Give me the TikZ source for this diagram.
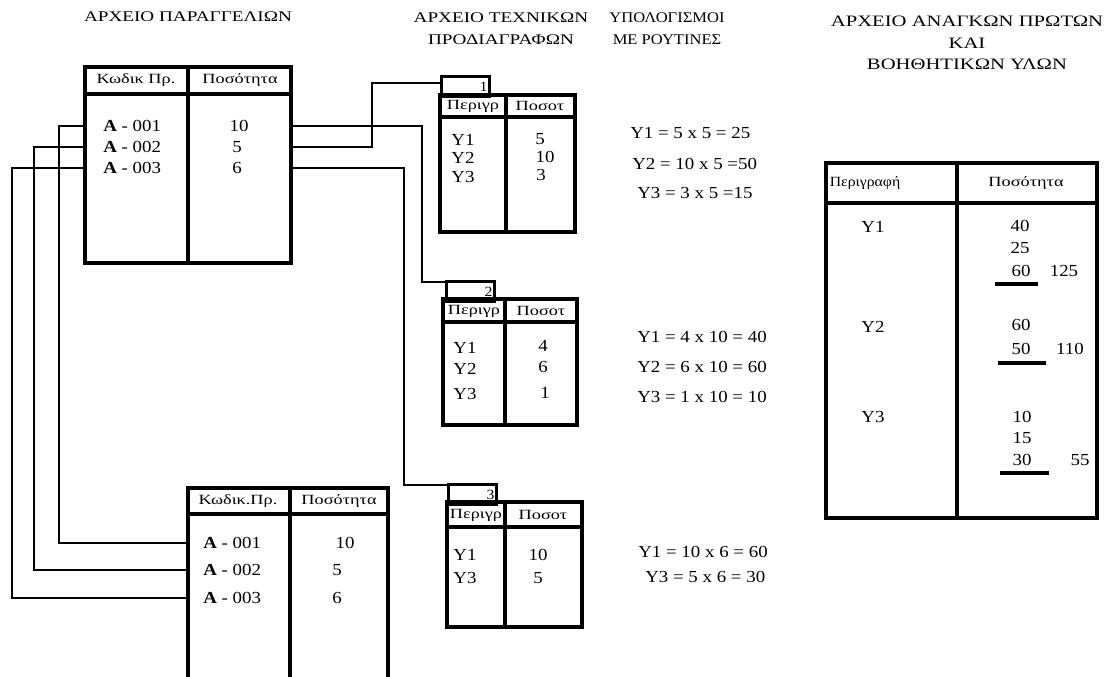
\documentclass[tikz,border=0pt]{standalone}
\usepackage{fontspec}
\setmainfont{Liberation Serif}[FakeStretch=1.12]
\newfontfamily\widefont{Liberation Serif}[FakeStretch=1.3]
\usetikzlibrary{positioning}
\tikzset{
  tline/.style={line width=2.2pt},
  wire/.style={line width=1.7pt},
  ttl/.style={font=\widefont\fontsize{10.5}{15.5}\selectfont, align=center, inner sep=0pt},
  hcell/.style={font=\widefont\fontsize{10}{10}\selectfont, inner sep=0pt},
  cell/.style={font=\fontsize{12}{12}\selectfont, inner sep=0pt},
  calc/.style={font=\fontsize{12}{12}\selectfont, inner sep=0pt, anchor=west},
  tabbox/.style={draw, line width=2.2pt, anchor=north west, minimum width=12mm, minimum height=5mm, inner sep=0pt, text width=11mm, align=right, font=\fontsize{10}{10}\selectfont}
}

\begin{document}
\begin{tikzpicture}[x=0.25mm, y=-0.25mm]
\useasboundingbox (0,0) rectangle (1108,677);

% titles
\node[ttl] (ttl0) at (188,17) {ΑΡΧΕΙΟ ΠΑΡΑΓΓΕΛΙΩΝ};
\node[ttl] (ttl1) at (501,29) {ΑΡΧΕΙΟ ΤΕΧΝΙΚΩΝ\\ΠΡΟΔΙΑΓΡΑΦΩΝ};
\node[ttl, font=\fontsize{10.5}{15.5}\selectfont] (ttl2) at (667,29) {ΥΠΟΛΟΓΙΣΜΟΙ\\ΜΕ ΡΟΥΤΙΝΕΣ};
\node[ttl, font=\widefont\fontsize{11.3}{15.5}\selectfont] (ttl3) at (967,43) {ΑΡΧΕΙΟ ΑΝΑΓΚΩΝ ΠΡΩΤΩΝ\\ΚΑΙ\\ΒΟΗΘΗΤΙΚΩΝ ΥΛΩΝ};

% orders file (top)
\draw[tline] (85,67) rectangle (291,263);
\draw[tline] (85,94) -- (291,94) (188,67) -- (188,263);
\coordinate (t0w) at (85,0);
\coordinate (t0e) at (291,0);
\node[hcell] (h01) at (136,80) {Κωδικ Πρ.};
\node[hcell] (h02) at (240,80) {Ποσότητα};
\node[cell, anchor=west] (a1) at (103,126) {\textbf{A} - 001};
\node[cell, anchor=west] (a2) at (103,147) {\textbf{A} - 002};
\node[cell, anchor=west] (a3) at (103,168) {\textbf{A} - 003};
\node[cell] (q1) at (239,126) {10};
\node[cell] (q2) at (237,147) {5};
\node[cell] (q3) at (237,168) {6};

% orders file (bottom)
\draw[tline] (188,677) |- (388,488) -- (388,677);
\draw[tline] (188,514) -- (388,514) (290,488) -- (290,677);
\coordinate (t4w) at (188,0);
\node[hcell] (h41) at (238,501) {Κωδικ.Πρ.};
\node[hcell] (h42) at (339,501) {Ποσότητα};
\node[cell, anchor=west] (b1) at (203,543) {\textbf{A} - 001};
\node[cell, anchor=west] (b2) at (203,570) {\textbf{A} - 002};
\node[cell, anchor=west] (b3) at (203,598) {\textbf{A} - 003};
\node[cell] (p1) at (345,543) {10};
\node[cell] (p2) at (337,570) {5};
\node[cell] (p3) at (337,598) {6};

% technical spec 1
\node[tabbox] (tab1) at (440,75) {1};
\draw[tline] (440,95) rectangle (575,232);
\draw[tline] (440,117) -- (575,117) (506,95) -- (506,232);
\node[hcell] (s11) at (473,106) {Περιγρ};
\node[hcell] (s12) at (540,106) {Ποσοτ};
\node[cell] (y11) at (463,140) {Y1};
\node[cell] (y12) at (463,158) {Y2};
\node[cell] (y13) at (463,177) {Y3};
\node[cell] (v11) at (540,139) {5};
\node[cell] (v12) at (545,157) {10};
\node[cell] (v13) at (541,175) {3};

% technical spec 2
\node[tabbox] (tab2) at (445,280) {2};
\draw[tline] (443,299) rectangle (577,425);
\draw[tline] (443,322) -- (577,322) (505,299) -- (505,425);
\node[hcell] (s21) at (474,311) {Περιγρ};
\node[hcell] (s22) at (541,311) {Ποσοτ};
\node[cell] (y21) at (465,348) {Y1};
\node[cell] (y22) at (465,369) {Y2};
\node[cell] (y23) at (465,394) {Y3};
\node[cell] (v21) at (543,346) {4};
\node[cell] (v22) at (543,367) {6};
\node[cell] (v23) at (545,393) {1};

% technical spec 3
\node[tabbox] (tab3) at (447,483) {3};
\draw[tline] (447,502) rectangle (582,627);
\draw[tline] (447,527) -- (582,527) (505,502) -- (505,627);
\node[hcell] (s31) at (476,515) {Περιγρ};
\node[hcell] (s32) at (543,515) {Ποσοτ};
\node[cell] (y31) at (465,555) {Y1};
\node[cell] (y33) at (465,578) {Y3};
\node[cell] (v31) at (538,555) {10};
\node[cell] (v33) at (538,578) {5};

% calculations
\node[calc] (c11) at (630,133) {Y1 = 5 x 5 = 25};
\node[calc] (c12) at (632,164) {Y2 = 10 x 5 =50};
\node[calc] (c13) at (637,193) {Y3 = 3 x 5 =15};
\node[calc] (c21) at (637,337) {Y1 = 4 x 10 = 40};
\node[calc] (c22) at (637,367) {Y2 = 6 x 10 = 60};
\node[calc] (c23) at (637,397) {Y3 = 1 x 10 = 10};
\node[calc] (c31) at (638,552) {Y1 = 10 x 6 = 60};
\node[calc] (c33) at (645,577) {Y3 = 5 x 6 = 30};

% materials file
\draw[tline] (826,163) rectangle (1097,518);
\draw[tline] (826,203) -- (1097,203) (957,163) -- (957,518);
\node[hcell, font=\fontsize{10}{10}\selectfont] (m1) at (865,183) {Περιγραφή};
\node[hcell] (m2) at (1026,183) {Ποσότητα};
\node[cell] (my1) at (873,227) {Y1};
\node[cell] (my2) at (873,327) {Y2};
\node[cell] (my3) at (873,417) {Y3};
\node[cell] (n11) at (1020,226) {40};
\node[cell] (n12) at (1020,248) {25};
\node[cell] (n13) at (1021,271) {60};
\node[cell] (n1s) at (1064,271) {125};
\draw[tline] (995,284) -- (1038,284);
\node[cell] (n21) at (1021,325) {60};
\node[cell] (n22) at (1021,349) {50};
\node[cell] (n2s) at (1070,349) {110};
\draw[tline] (998,363) -- (1046,363);
\node[cell] (n31) at (1022,417) {10};
\node[cell] (n32) at (1022,438) {15};
\node[cell] (n33) at (1022,460) {30};
\node[cell] (n3s) at (1080,460) {55};
\draw[tline] (1000,473) -- (1049,473);

% links
\draw[wire] (q1 -| t0e) -- ++(131,0) |- ([yshift=-0.5mm]tab2.north west);
\draw[wire] (q2 -| t0e) -- ++(81,0) |- ([yshift=-2mm]tab1.north west);
\draw[wire] (q3 -| t0e) -- ++(113,0) |- ([yshift=-0.5mm]tab3.north west);
\draw[wire] (a1 -| t0w) -- ++(-26,0) |- (b1 -| t4w);
\draw[wire] (a2 -| t0w) -- ++(-51,0) |- (b2 -| t4w);
\draw[wire] (a3 -| t0w) -- ++(-73,0) |- (b3 -| t4w);
\end{tikzpicture}
\end{document}
